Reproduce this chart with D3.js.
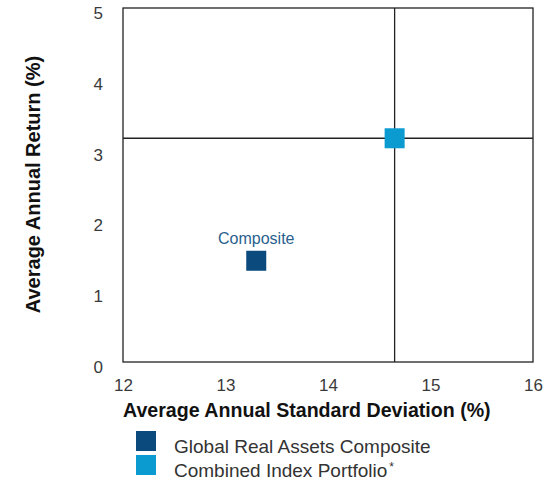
<!DOCTYPE html>
<html>
<head>
<meta charset="utf-8">
<script src="https://cdn.jsdelivr.net/npm/d3@7"></script>
<style>
  body { margin: 0; background: #fff; }
  svg { font-family: "Liberation Sans", Arial, sans-serif; }
</style>
</head>
<body>
<svg id="chart" width="551" height="484"></svg>
<script>
// Risk / return data
const seriesNames = ["Global Real Assets Composite", "Combined Index Portfolio"];
const stdDev = [13.30, 14.65];
const avgReturn = [1.43, 3.16];
const seriesColors = ["#0b4a7c", "#0b9bd1"];
const xTicks = [12, 13, 14, 15, 16];
const yTicks = [0, 1, 2, 3, 4, 5];

const svg = d3.select("#chart");
const m = { left: 123, top: 8, right: 533, bottom: 362 };

const x = d3.scaleLinear().domain([12, 16]).range([m.left, m.right]);
const y = d3.scaleLinear().domain([0, 5]).range([m.bottom, m.top]);

// Frame
svg.append("rect")
  .attr("x", m.left).attr("y", m.top)
  .attr("width", m.right - m.left).attr("height", m.bottom - m.top)
  .attr("fill", "none").attr("stroke", "#222").attr("stroke-width", 1.3);

// Crosshair through the index portfolio
svg.append("line")
  .attr("x1", x(stdDev[1])).attr("x2", x(stdDev[1]))
  .attr("y1", m.top).attr("y2", m.bottom)
  .attr("stroke", "#222").attr("stroke-width", 1.3);
svg.append("line")
  .attr("x1", m.left).attr("x2", m.right)
  .attr("y1", y(avgReturn[1])).attr("y2", y(avgReturn[1]))
  .attr("stroke", "#222").attr("stroke-width", 1.3);

// Axes (labels only)
const fmt = d3.format("d");
const xAxis = d3.axisBottom(x).tickValues(xTicks).tickFormat(fmt).tickSize(0).tickPadding(17);
const gx = svg.append("g").attr("transform", `translate(0,${m.bottom})`).call(xAxis);
gx.select(".domain").remove();
gx.attr("font-size", 17).attr("font-family", null);
gx.selectAll("text").attr("fill", "#3a3a3a");

const yAxis = d3.axisLeft(y).tickValues(yTicks).tickFormat(fmt).tickSize(0).tickPadding(20);
const gy = svg.append("g").attr("transform", `translate(${m.left},0)`).call(yAxis);
gy.select(".domain").remove();
gy.attr("font-size", 17).attr("font-family", null);
gy.selectAll("text").attr("fill", "#3a3a3a").attr("dy", "0.62em");

// Axis titles
svg.append("text")
  .attr("x", m.left).attr("y", 417)
  .attr("font-size", 19.6).attr("font-weight", "bold")
  .attr("fill", "#111").text("Average Annual Standard Deviation (%)");
svg.append("text")
  .attr("transform", "translate(40,184.5) rotate(-90)")
  .attr("text-anchor", "middle").attr("font-size", 20).attr("font-weight", "bold")
  .attr("fill", "#111").text("Average Annual Return (%)");

// Markers
const sq = 20;
svg.selectAll("rect.pt").data(stdDev).join("rect")
  .attr("class", "pt")
  .attr("x", (d) => x(d) - sq / 2)
  .attr("y", (d, i) => y(avgReturn[i]) - sq / 2)
  .attr("width", sq).attr("height", sq)
  .attr("fill", (d, i) => seriesColors[i]);

// Point label
svg.append("text")
  .attr("x", x(stdDev[0])).attr("y", y(avgReturn[0]) - 17)
  .attr("text-anchor", "middle").attr("font-size", 16)
  .attr("fill", "#2a5f8e").text("Composite");

// Legend
const lg = svg.append("g");
seriesNames.forEach((name, i) => {
  const ly = 431 + i * 24;
  lg.append("rect").attr("x", 136).attr("y", ly).attr("width", 20).attr("height", 20)
    .attr("fill", seriesColors[i]);
  const t = lg.append("text").attr("x", 174).attr("y", ly + 22)
    .attr("font-size", 19).attr("fill", "#333").text(name);
  if (i === 1) {
    t.append("tspan").attr("dx", 2).attr("dy", -6).attr("font-size", 12).text("*");
  }
});
</script>
</body>
</html>
